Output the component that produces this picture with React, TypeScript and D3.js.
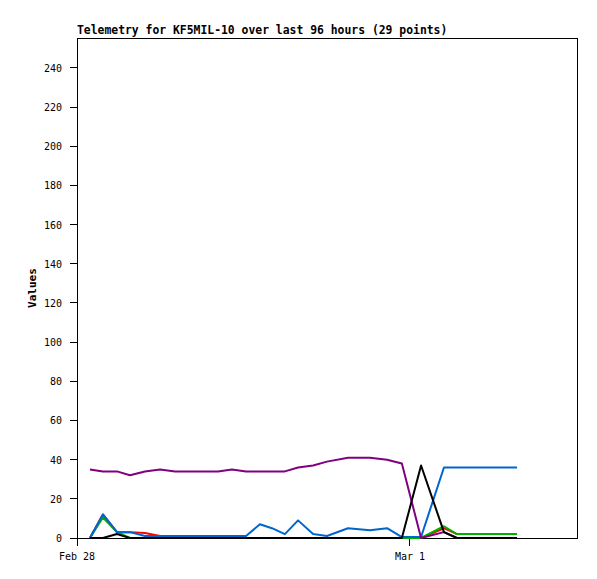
import React from "react";
import * as d3 from "d3";

const times = [
  "2023-02-28 00:56", "2023-02-28 01:52", "2023-02-28 02:53", "2023-02-28 03:49",
  "2023-02-28 04:54", "2023-02-28 05:59", "2023-02-28 07:04", "2023-02-28 08:09",
  "2023-02-28 09:14", "2023-02-28 10:10", "2023-02-28 11:10", "2023-02-28 12:11",
  "2023-02-28 13:11", "2023-02-28 14:03", "2023-02-28 14:59", "2023-02-28 15:56",
  "2023-02-28 17:01", "2023-02-28 18:01", "2023-02-28 19:32", "2023-02-28 21:07",
  "2023-02-28 22:21", "2023-02-28 23:25", "2023-03-01 00:48", "2023-03-01 02:27",
  "2023-03-01 03:23", "2023-03-01 04:28", "2023-03-01 05:33", "2023-03-01 06:38",
  "2023-03-01 07:43",
];

const redValues = [0, 12, 3, 3, 2.5, 1, 0, 0, 0, 0, 0, 0, 0, 0, 0, 0, 0, 0, 0, 0, 0, 0, 0, 5, 2, 2, 2, 2, 2];
const greenValues = [0, 10.5, 3, 0, 0, 0, 0, 0, 0, 0, 0, 0, 0, 0, 0, 0, 0, 0, 0, 0, 0, 0, 0, 6, 2, 2, 2, 2, 2];
const blueValues = [0, 12, 3, 3, 1, 1, 1, 1, 1, 1, 1, 1, 7, 5, 2, 9, 2, 1, 5, 4, 5, 0.5, 0.5, 36, 36, 36, 36, 36, 36];
const purpleValues = [35, 34, 34, 32, 34, 35, 34, 34, 34, 34, 35, 34, 34, 34, 34, 36, 37, 39, 41, 41, 40, 38, 0, 3, 0, 0, 0, 0, 0];
const blackValues = [0, 0, 2, 0, 0, 0, 0, 0, 0, 0, 0, 0, 0, 0, 0, 0, 0, 0, 0, 0, 0, 0, 37, 3, 0, 0, 0, 0, 0];

const yTicks = [0, 20, 40, 60, 80, 100, 120, 140, 160, 180, 200, 220, 240];
const xTickLabels = ["2023-02-28 00:00", "2023-03-01 00:00"];

const seriesList = [
  { name: "red", color: "#ff0000", values: redValues },
  { name: "green", color: "#00b000", values: greenValues },
  { name: "blue", color: "#0066cc", values: blueValues },
  { name: "purple", color: "#800080", values: purpleValues },
  { name: "black", color: "#000000", values: blackValues },
];

const parse = d3.timeParse("%Y-%m-%d %H:%M");

export default function App() {
  const width = 597;
  const height = 579;
  const left = 77, top = 38, right = 577, bottom = 538;
  const dates = times.map((t) => parse(t) as Date);
  const start = parse("2023-02-28 00:00") as Date;
  const end = new Date(start.getTime() + 36.04 * 3600 * 1000);
  const x = d3.scaleTime().domain([start, end]).range([left, right]);
  const y = d3.scaleLinear().domain([0, 255.3]).range([bottom, top]);
  const fmt = d3.timeFormat("%b %-d");
  const mono = "'DejaVu Sans Mono', monospace";

  const line = (vals: number[]) =>
    d3
      .line<number>()
      .x((_, i) => x(dates[i]))
      .y((v) => y(v))(vals) || "";

  return (
    <svg width={width} height={height} style={{ position: "absolute", left: 0, top: 0, background: "#fff" }}>
      <rect x={0} y={0} width={width} height={height} fill="#fff" />
      <text x={left} y={34} fontFamily={mono} fontSize={11.4} fontWeight="bold" fill="#000">
        Telemetry for KF5MIL-10 over last 96 hours (29 points)
      </text>
      <rect x={left} y={top} width={right - left} height={bottom - top} fill="none" stroke="#000" strokeWidth={1} shapeRendering="crispEdges" />
      {yTicks.map((t) => (
        <g key={t}>
          <line x1={left - 7} x2={left} y1={y(t)} y2={y(t)} stroke="#000" shapeRendering="crispEdges" />
          <text x={62} y={y(t) + 4} textAnchor="end" fontFamily={mono} fontSize={10} fill="#000">
            {t}
          </text>
        </g>
      ))}
      {xTickLabels.map((s) => {
        const d = parse(s) as Date;
        return (
          <g key={s}>
            <line x1={x(d)} x2={x(d)} y1={bottom} y2={bottom + 8} stroke="#000" shapeRendering="crispEdges" />
            <text x={x(d)} y={bottom + 22} textAnchor="middle" fontFamily={mono} fontSize={10} fill="#000">
              {fmt(d)}
            </text>
          </g>
        );
      })}
      <text
        transform={`translate(36, ${(top + bottom) / 2}) rotate(-90)`}
        textAnchor="middle"
        fontFamily={mono}
        fontSize={11}
        fontWeight="bold"
        fill="#000"
      >
        Values
      </text>
      {seriesList.map((s) => (
        <path key={s.name} d={line(s.values)} fill="none" stroke={s.color} strokeWidth={2} strokeLinejoin="round" />
      ))}
    </svg>
  );
}
